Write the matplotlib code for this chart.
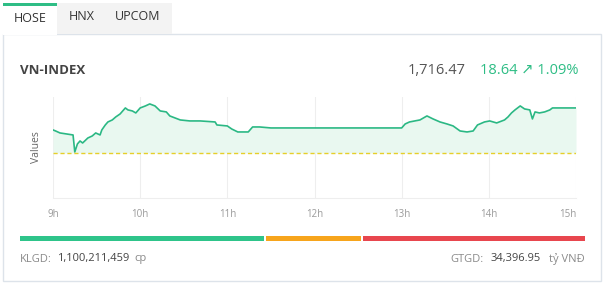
import matplotlib
matplotlib.use("Agg")
import matplotlib.pyplot as plt
import matplotlib.patches as mpatches

# intraday VN-INDEX (hour of day, index value)
hours = [9.00, 9.03, 9.08, 9.23, 9.25, 9.28, 9.31, 9.34, 9.40, 9.45, 9.49, 9.54,
         9.56, 9.60, 9.63, 9.68, 9.72, 9.77, 9.83, 9.86, 9.91, 9.95, 10.00, 10.06,
         10.11, 10.17, 10.23, 10.30, 10.34, 10.40, 10.46, 10.57, 10.69, 10.86, 10.88,
         11.00, 11.05, 11.12, 11.24, 11.29, 11.37, 11.50,
         13.00, 13.04, 13.09, 13.15, 13.21, 13.29, 13.36, 13.44, 13.52, 13.59, 13.67,
         13.75, 13.82, 13.87, 13.95, 14.01, 14.09, 14.18, 14.22, 14.26, 14.30, 14.36,
         14.41, 14.47, 14.50, 14.53, 14.58, 14.64, 14.70, 14.73, 15.00]
values = [1707.36, 1706.94, 1706.12, 1705.29, 1698.24, 1701.56, 1702.80, 1701.97,
          1704.04, 1704.87, 1706.12, 1705.29, 1707.36, 1709.43, 1710.67, 1711.50,
          1712.75, 1713.99, 1716.47, 1715.65, 1715.23, 1714.40, 1716.47, 1717.30,
          1718.13, 1717.30, 1715.23, 1714.82, 1713.16, 1712.33, 1711.50, 1711.09,
          1711.09, 1710.67, 1709.43, 1709.02, 1707.77, 1706.53, 1706.53, 1708.60,
          1708.60, 1708.19,
          1708.19, 1709.84, 1710.67, 1711.09, 1711.50, 1713.16, 1711.92, 1710.67,
          1709.84, 1709.02, 1706.94, 1706.53, 1706.94, 1709.43, 1710.67, 1711.09,
          1710.26, 1711.50, 1712.75, 1714.40, 1715.65, 1717.30, 1716.06, 1715.65,
          1711.92, 1714.82, 1714.40, 1714.82, 1715.65, 1716.47, 1716.47]
ref_value = 1697.83
tick_hours = [9, 10, 11, 12, 13, 14, 15]
tick_labels = ["9h", "10h", "11h", "12h", "13h", "14h", "15h"]
tabs = ["HOSE", "HNX", "UPCOM"]
breadth = [246, 96, 224]  # up / unchanged / down
breadth_colors = ["#2ec48a", "#f7a51c", "#e8464e"]

GREEN = "#2ebd85"
DARK = "#444444"
GRAY = "#8a8a8a"
W, H = 606, 300

plt.rcParams["font.family"] = ["Open Sans", "DejaVu Sans"]

fig = plt.figure(figsize=(W / 100, H / 100), dpi=100)
fig.patch.set_facecolor("white")


def fx(x):
    return x / W


def fy(y):
    return 1 - y / H


def rect(x0, y0, x1, y1, **kw):
    fig.patches.append(mpatches.Rectangle((fx(x0), fy(y1)), fx(x1) - fx(x0), fy(y0) - fy(y1),
                                          transform=fig.transFigure, figure=fig,
                                          zorder=-5, **kw))


# card and tabs
rect(3, 34, 601, 281, facecolor="white", edgecolor="#dde3ea", linewidth=1)
rect(57, 3, 172, 34, facecolor="#f3f3f3", edgecolor="none")
rect(3, 3, 57, 35, facecolor="white", edgecolor="none")
rect(3, 3, 57, 6, facecolor=GREEN, edgecolor="none")
for name, cx in zip(tabs, [30, 82, 138]):
    fig.text(fx(cx), fy(19 if name == "HOSE" else 17), name, ha="center", va="center",
             fontsize=9, color="#333333")

# header
fig.text(fx(20), fy(70), "VN-INDEX", ha="left", va="center", fontsize=9.5,
         fontweight="bold", color=DARK)
fig.text(fx(466), fy(71), "1,716.47", ha="right", va="center", fontsize=10.5, color="#555555")
fig.text(fx(578), fy(71), "18.64 \u2197 1.09%", ha="right", va="center", fontsize=10.5,
         color=GREEN)

# chart
ax = fig.add_axes([fx(53), fy(198), fx(576) - fx(53), fy(97) - fy(198)])
ax.fill_between(hours, values, ref_value, color="#e9f8f0", linewidth=0)
ax.plot(hours, values, color="#2bb884", linewidth=1.2)
ax.axhline(ref_value, color="#e6cf2a", linewidth=1.0, linestyle=(0, (3, 2)), zorder=3)
ax.set_xlim(9, 15)
ax.set_ylim(1679.2, 1721.0)
ax.set_xticks(tick_hours)
ax.set_xticklabels(tick_labels)
ax.set_yticks([])
for lbl in ax.get_xticklabels():
    lbl.set_fontsize(7)
    lbl.set_color("#9a9a9a")
ax.get_xticklabels()[-1].set_horizontalalignment("right")
ax.tick_params(axis="x", length=0, pad=8)
ax.grid(axis="x", color="#eeeeee", linewidth=0.8)
ax.set_axisbelow(True)
for side in ["top", "left", "right"]:
    ax.spines[side].set_visible(False)
ax.spines["bottom"].set_color("#eeeeee")
ax.set_facecolor("none")
ax.set_ylabel("Values", fontsize=7.5, color="#666666", labelpad=8)

# market breadth bar
bx = fig.add_axes([fx(20), fy(241), fx(585) - fx(20), fy(236) - fy(241)])
left = 0
for val, col in zip(breadth, breadth_colors):
    bx.barh(0, val - 2, left=left, height=1, color=col)
    left += val
bx.set_xlim(0, sum(breadth) - 2)
bx.set_ylim(-0.5, 0.5)
bx.axis("off")

# footer
fig.text(fx(20), fy(259), "KLGD:", ha="left", va="center", fontsize=8, color=GRAY)
fig.text(fx(57), fy(259), "1,100,211,459", ha="left", va="center", fontsize=8, color=DARK)
fig.text(fx(134), fy(259), "cp", ha="left", va="center", fontsize=8, color=GRAY)
fig.text(fx(450), fy(259), "GTGD:", ha="left", va="center", fontsize=8, color=GRAY)
fig.text(fx(541), fy(259), "34,396.95", ha="right", va="center", fontsize=8, color=DARK)
fig.text(fx(585), fy(259), "t\u1ef7 VN\u0110", ha="right", va="center", fontsize=8, color=GRAY)

fig.savefig("out.png", dpi=100)
